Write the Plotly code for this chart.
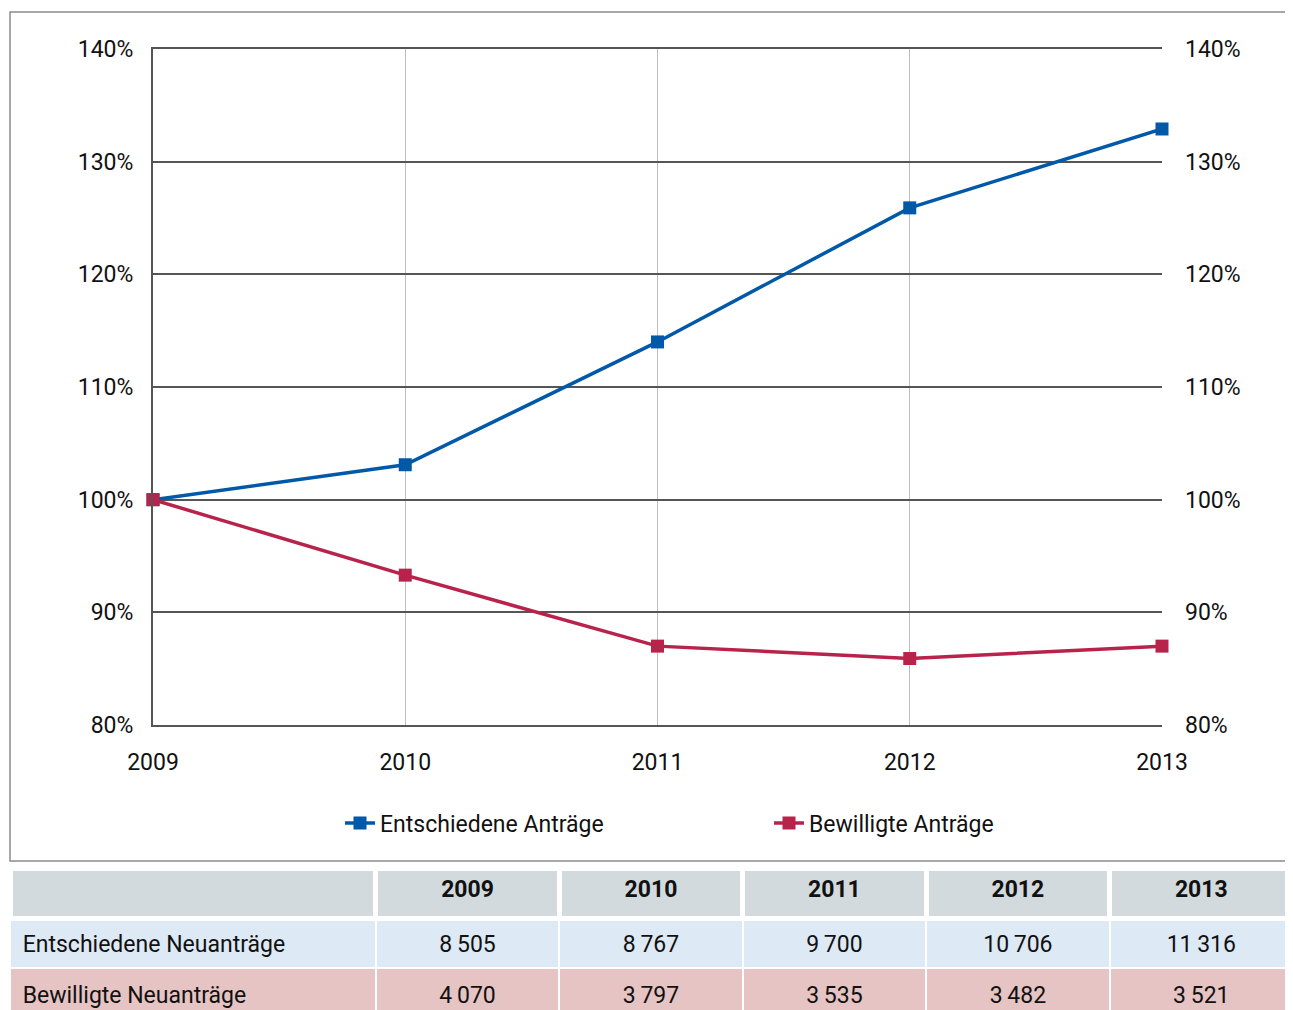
import plotly.graph_objects as go

# data
years = [2009, 2010, 2011, 2012, 2013]
entschieden_pct = [100, 103.1, 114.0, 125.9, 132.9]
bewilligt_pct = [100, 93.3, 87.0, 85.9, 87.0]
entschieden_abs = [8505, 8767, 9700, 10706, 11316]
bewilligt_abs = [4070, 3797, 3535, 3482, 3521]
series_names = ["Entschiedene Anträge", "Bewilligte Anträge"]
row_labels = ["Entschiedene Neuanträge", "Bewilligte Neuanträge"]

# the page puts the figure 8px in from the top left corner;
# the figure is a bit taller than the window so the table can run off the bottom
OFF = 8
W, H = 1293 - OFF, 1030
FONT = "Roboto, DejaVu Sans Condensed, sans-serif"
FS = 23
BLUE = "#0059A8"
RED = "#B8234B"
TXT = "#111111"
COL_W = [367, 184, 184, 184, 184, 184]


def px(x):
    """page x pixel -> paper fraction"""
    return (x - OFF) / W


def py(y):
    """page y pixel -> paper fraction"""
    return 1 - (y - OFF) / H


def fmt(v):
    return f"{v:,}".replace(",", "\u2009")


fig = go.Figure()

for name, vals, color, yax in [
    (series_names[0], entschieden_pct, BLUE, "y"),
    (series_names[1], bewilligt_pct, RED, "y2"),
]:
    fig.add_trace(
        go.Scatter(
            x=years, y=vals, name=name, yaxis=yax,
            mode="lines+markers",
            line=dict(color=color, width=3.5),
            marker=dict(symbol="square", size=13, color=color),
            cliponaxis=False,
        )
    )

# table below the chart: fills + header text
fig.add_trace(
    go.Table(
        domain=dict(x=[px(10), 1.0], y=[0, py(868)]),
        columnwidth=COL_W,
        header=dict(
            values=[""] + [f"<b>{y}</b>" for y in years],
            fill_color="#D3DADD",
            line=dict(color="white", width=5),
            align=["left", "center"],
            font=dict(family=FONT, size=FS, color=TXT),
            height=50,
        ),
        cells=dict(
            values=[[""] * 2] * 6,
            fill_color=[["#DDEAF5", "#E6C4C3"]] * 6,
            line=dict(color="white", width=2),
            height=50,
        ),
    )
)
# body text, laid over the fills a little lower so it sits mid-row
fig.add_trace(
    go.Table(
        domain=dict(x=[px(10), 1.0], y=[0, py(868)]),
        columnwidth=COL_W,
        header=dict(
            values=[""] * 6,
            fill_color="rgba(0,0,0,0)",
            line=dict(color="rgba(0,0,0,0)", width=0),
            height=59,
        ),
        cells=dict(
            values=[["\u2009" + r for r in row_labels]]
            + [[fmt(a), fmt(b)] for a, b in zip(entschieden_abs, bewilligt_abs)],
            fill_color="rgba(0,0,0,0)",
            line=dict(color="rgba(0,0,0,0)", width=0),
            align=["left", "center"],
            font=dict(family=FONT, size=FS, color=TXT),
            height=51,
        ),
    )
)

# frame around the chart part
fig.add_shape(
    type="rect", xref="paper", yref="paper",
    x0=px(10), x1=1.0, y0=py(861), y1=py(12),
    line=dict(color="#8C8C8C", width=1.5),
)

fig.update_layout(
    width=W, height=H,
    margin=dict(l=0, r=0, t=0, b=0, autoexpand=False),
    paper_bgcolor="white",
    plot_bgcolor="white",
    font=dict(family=FONT, size=FS, color=TXT),
    xaxis=dict(
        domain=[px(153), px(1162)], range=[2009, 2013], tickvals=years,
        showgrid=True, gridcolor="#BDBDBD", gridwidth=1,
        showline=True, linecolor="#555555", linewidth=2, mirror=True,
        ticks="", ticklabelstandoff=15, tickfont=dict(size=FS),
        zeroline=False, automargin=False,
    ),
    yaxis=dict(
        domain=[py(725), py(49)], range=[80, 140], dtick=10, ticksuffix="%",
        showgrid=True, gridcolor="#555555", gridwidth=2,
        showline=True, linecolor="#555555", linewidth=2,
        ticks="", ticklabelstandoff=13, tickfont=dict(size=FS),
        zeroline=False, automargin=False,
    ),
    yaxis2=dict(
        overlaying="y", side="right", range=[80, 140], dtick=10, ticksuffix="%",
        showgrid=False, showline=False, ticks="", ticklabelstandoff=22,
        tickfont=dict(size=FS), zeroline=False, automargin=False,
    ),
    legend=dict(
        orientation="h", x=px(340), xanchor="left",
        y=py(823), yanchor="middle",
        font=dict(size=FS), entrywidth=384, bgcolor="rgba(0,0,0,0)",
    ),
)

fig.write_html("out.html")
